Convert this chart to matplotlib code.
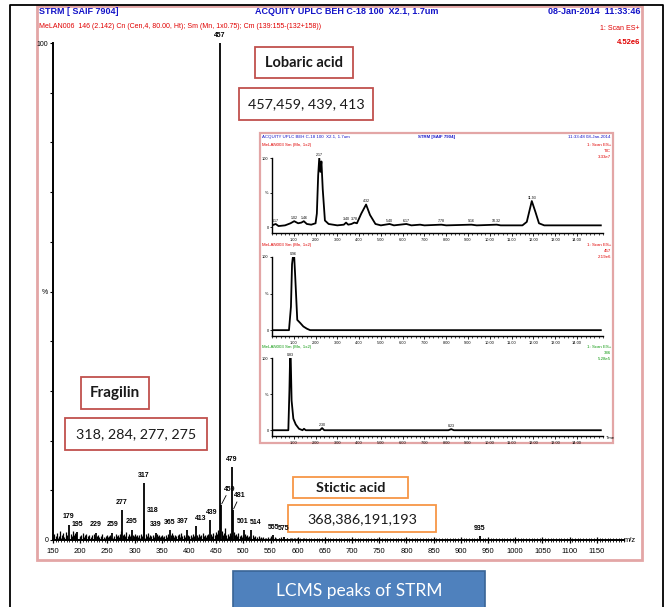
import matplotlib
matplotlib.use("Agg")
import matplotlib.pyplot as plt
from matplotlib.patches import Rectangle
from matplotlib.ticker import MultipleLocator

W, H = 667, 607

# ---- mass spectrum data (m/z, relative intensity %) ----
peak_mz = [179, 195, 229, 259, 277, 295, 317, 318, 339, 365, 397, 413,
           439, 457, 459, 479, 481, 501, 514, 555, 575, 935]
peak_int = [3.1, 1.6, 1.5, 1.5, 6.1, 2.1, 11.5, 4.1, 1.5, 2.0, 2.1, 2.8,
            4.0, 100.0, 7.0, 14.7, 6.0, 2.1, 2.0, 1.0, 0.7, 0.8]
peak_labels = ['179', '195', '229', '259', '277', '295', '317', '318', '339',
               '365', '397', '413', '439', '457', '459', '479', '481', '501',
               '514', '555', '575', '935']

noise_mz = [152, 155, 158, 161, 163, 166, 169, 171, 174, 176, 183, 185, 187,
            189, 191, 193, 199, 201, 205, 207, 209, 211, 215, 217, 219, 221,
            225, 227, 231, 233, 235, 239, 241, 243, 247, 249, 251, 253, 255,
            257, 263, 265, 267, 269, 271, 273, 275, 279, 281, 283, 284, 287,
            289, 291, 293, 297, 299, 301, 303, 305, 307, 309, 311, 313, 315,
            321, 323, 325, 327, 329, 331, 333, 335, 337, 341, 343, 345, 347,
            349, 351, 353, 355, 357, 359, 361, 363, 367, 368, 369, 371, 373,
            375, 377, 379, 381, 383, 385, 386, 388, 390, 392, 394, 399, 401,
            403, 405, 407, 409, 411, 415, 417, 419, 421, 423, 425, 427, 429,
            431, 433, 435, 437, 441, 443, 445, 447, 449, 451, 453, 455, 461,
            463, 465, 467, 469, 471, 473, 475, 477, 483, 485, 487, 489, 491,
            493, 495, 497, 499, 503, 505, 507, 509, 511, 517, 519, 521, 525,
            529, 533, 537, 541, 545, 549, 551, 559, 565, 569, 581, 587,
            593, 599, 612, 631, 655, 688, 726, 760, 812, 851, 890, 975, 1010,
            1066]
noise_int = [1.2, 0.8, 1.5, 0.9, 1.8, 1.0, 1.4, 0.7, 1.6, 1.1, 1.3, 0.8, 1.9,
             1.0, 1.5, 1.3, 0.9, 1.1, 1.4, 0.6, 1.0, 1.2, 0.8, 1.1, 0.7, 1.0,
             1.2, 0.9, 0.8, 1.1, 0.6, 0.9, 1.2, 0.7, 0.8, 1.0, 0.6, 0.9, 1.1,
             0.7, 0.9, 1.2, 0.8, 1.0, 0.7, 1.3, 1.9, 1.0, 1.3, 0.8, 1.6, 0.9,
             1.2, 0.8, 1.0, 1.1, 0.8, 1.3, 0.9, 1.1, 0.7, 1.0, 1.2, 0.8, 1.0,
             1.2, 0.9, 1.4, 0.7, 1.0, 0.8, 1.1, 0.7, 1.0, 1.2, 0.8, 1.0, 0.6,
             0.9, 1.1, 0.7, 0.9, 1.0, 0.7, 1.2, 0.9, 1.1, 1.5, 0.8, 1.0, 0.7,
             1.1, 0.8, 1.0, 1.2, 0.7, 1.0, 1.4, 0.8, 1.1, 0.7, 1.0, 1.1, 0.8,
             1.0, 0.7, 1.2, 0.8, 1.1, 1.0, 0.7, 1.2, 0.8, 1.0, 1.5, 0.9, 1.1,
             0.7, 1.0, 1.3, 0.9, 1.2, 0.8, 1.4, 1.0, 1.6, 1.2, 2.0, 1.5, 1.8,
             1.1, 1.4, 2.5, 1.0, 1.3, 0.9, 1.5, 1.1, 1.6, 1.0, 1.2, 0.8, 1.5,
             0.9, 1.1, 0.7, 1.0, 1.2, 0.8, 1.0, 0.7, 0.9, 1.0, 0.7, 0.8, 0.6,
             0.8, 0.6, 0.7, 0.5, 0.7, 0.5, 0.8, 0.6, 0.5, 0.6, 0.5, 0.4,
             0.5, 0.4, 0.4, 0.3, 0.3, 0.3, 0.3, 0.3, 0.3, 0.3, 0.3, 0.3, 0.3,
             0.3]

x_ticks = [150, 200, 250, 300, 350, 400, 450, 500, 550, 600, 650, 700, 750,
           800, 850, 900, 950, 1000, 1050, 1100, 1150]

# ---- chromatograms (retention time in min, relative intensity %) ----
tic_t = [0.0, 0.17, 0.3, 0.6, 0.85, 1.02, 1.2, 1.35, 1.46, 1.6, 1.8, 2.0,
         2.06, 2.12, 2.17, 2.22, 2.27, 2.33, 2.43, 2.6, 3.0, 3.3, 3.4, 3.5,
         3.65, 3.78, 3.9, 4.1, 4.32, 4.5, 4.75, 5.0, 5.4, 5.6, 6.17, 6.4, 6.8,
         7.0, 7.78, 8.0, 9.16, 9.4, 10.32, 10.5, 11.5, 11.7, 11.93, 12.1,
         12.26, 12.5, 13.0, 14.0, 15.1]
tic_i = [3, 5, 2, 3, 6, 9, 6, 7, 9, 5, 4, 6, 20, 75, 100, 80, 95, 55, 10, 5,
         3, 4, 7, 4, 5, 7, 6, 20, 33, 18, 5, 3, 5, 3, 5, 3, 4, 3, 4, 3, 4, 3,
         4, 3, 3, 8, 38, 22, 6, 3, 3, 3, 3]
tic_rt = ['0.17', '1.02', '1.46', '2.17', '3.40', '3.78', '4.32', '5.40',
          '6.17', '7.78', '9.16', '10.32', '11.93']
tic_rt_i = [5, 9, 9, 100, 7, 7, 33, 5, 5, 4, 4, 4, 38]

eic1_t = [0.0, 0.78, 0.87, 0.92, 0.96, 1.02, 1.06, 1.10, 1.16, 1.29, 1.44,
          1.6, 1.75, 15.1]
eic1_i = [0, 0, 32, 90, 100, 100, 77, 52, 14, 10, 5, 2, 0, 0]

eic2_t = [0.0, 0.75, 0.80, 0.83, 0.86, 0.90, 0.98, 1.09, 1.24, 1.40, 1.47,
          1.55, 1.6, 2.2, 2.3, 2.4, 8.1, 8.23, 8.35, 15.1]
eic2_i = [0, 0, 55, 100, 100, 41, 16, 8, 2, 0, 2, 0, 0, 0, 3, 0, 0, 1.5, 0, 0]

BLUE = '#1414C8'
RED = '#E00000'
GREEN = '#109A10'
PINK = '#E3A6A6'
BOXRED = '#C0504D'
BOXORANGE = '#F79646'
INST = ['Liberation Sans Narrow', 'Liberation Sans']
CAL = ['Lato', 'DejaVu Sans']


def px_axes(x0, y0, x1, y1, **kw):
    return fig.add_axes([x0 / W, 1 - y1 / H, (x1 - x0) / W, (y1 - y0) / H], **kw)


fig = plt.figure(figsize=(W / 100, H / 100), dpi=100)

# ---------------- main spectrum ----------------
ax = px_axes(53, 43, 624, 540)
ax.set_zorder(3)
ax.set_facecolor('none')
ax.vlines(noise_mz, 0, noise_int, color='black', lw=0.9)
ax.vlines(peak_mz, 0, peak_int, color='black', lw=1.3)
ax.set_xlim(150, 1200)
ax.set_ylim(0, 100)
for s in ('top', 'right'):
    ax.spines[s].set_visible(False)
for s in ('left', 'bottom'):
    ax.spines[s].set_linewidth(1.4)
ax.set_xticks(x_ticks)
ax.set_xticklabels([str(v) for v in x_ticks], fontsize=5.5, family=INST)
ax.xaxis.set_minor_locator(MultipleLocator(5))
ax.tick_params(axis='x', which='major', length=4, width=0.9, pad=4, direction='inout')
ax.tick_params(axis='x', which='minor', length=2.5, width=0.6, direction='inout')
ax.set_yticks(range(0, 101, 10))
ax.set_yticklabels(['0', '', '', '', '', '%', '', '', '', '', '100'], fontsize=5, family=INST)
ax.tick_params(axis='y', length=2.5, width=0.8, pad=1)
ax.text(1.0, 0.0, 'm/z', transform=ax.transAxes, fontsize=5.5, family=INST,
        ha='left', va='center')

label_offsets = {'318': (6, 4, False), '459': (6, 9, True), '481': (5, 8, True),
                 '439': (1, 3, False), '501': (-1, 3, False), '514': (3, 3, False),
                 '397': (-3, 3, False), '413': (3, 3, False)}
for mz, h, lab in zip(peak_mz, peak_int, peak_labels):
    dx, dy, lead = label_offsets.get(lab, (0, 3, False))
    ax.annotate(lab, (mz, h), xytext=(dx, dy), textcoords='offset points',
                ha='center', va='bottom', fontsize=5, family=INST, weight='bold',
                arrowprops=dict(arrowstyle='-', lw=0.6, shrinkA=0, shrinkB=1) if lead else None)

# ---------------- page overlay: frames, headers, text boxes ----------------
ov = fig.add_axes([0, 0, 1, 1], facecolor='none')
ov.set_zorder(2)
ov.set_xlim(0, W)
ov.set_ylim(H, 0)
ov.axis('off')

ov.plot([10, 10, 663, 663], [H, 5, 5, H], color='black', lw=1.3)
ov.add_patch(Rectangle((37, 6), 605, 554, fill=False, ec=PINK, lw=2))

ov.text(39, 11, 'STRM [ SAIF 7904]', color=BLUE, fontsize=6.5, weight='bold',
        family=INST, va='center', ha='left')
ov.text(255, 11, 'ACQUITY UPLC BEH C-18 100  X2.1, 1.7um', color=BLUE, fontsize=6.5,
        weight='bold', family=INST, va='center', ha='left')
ov.text(640, 11, '08-Jan-2014  11:33:46', color=BLUE, fontsize=6.5, weight='bold',
        family=INST, va='center', ha='right')
ov.text(39, 27, 'MeLAN006  146 (2.142) Cn (Cen,4, 80.00, Ht); Sm (Mn, 1x0.75); Cm (139:155-(132+158))',
        color=RED, fontsize=5, family=INST, va='center', ha='left')
ov.text(640, 28, '1: Scan ES+', color=RED, fontsize=5, family=INST, va='center', ha='right')
ov.text(640, 42, '4.52e6', color=RED, fontsize=5.5, weight='bold', family=INST,
        va='center', ha='right')


def text_box(x0, y0, x1, y1, txt, ec, bold, size):
    ov.add_patch(Rectangle((x0, y0), x1 - x0, y1 - y0, fc='white', ec=ec, lw=1.3))
    ov.text((x0 + x1) / 2, (y0 + y1) / 2 + 0.5, txt, fontsize=size, family=CAL,
            weight='bold' if bold else 'normal', ha='center', va='center', color='#1a1a1a')


text_box(255, 47, 353, 78, 'Lobaric acid', BOXRED, True, 10.5)
text_box(239, 88, 373, 120, '457,459, 439, 413', BOXRED, False, 10.3)
text_box(81, 377, 149, 409, 'Fragilin', BOXRED, True, 11)
text_box(65, 418, 207, 450, '318, 284, 277, 275', BOXRED, False, 10.3)
text_box(293, 477, 408, 498, 'Stictic acid', BOXORANGE, True, 10.4)
text_box(288, 505, 436, 532, '368,386,191,193', BOXORANGE, False, 10.4)

# caption box
ov.add_patch(Rectangle((233, 571), 252, 40, fc='#4F81BD', ec='#3A6596', lw=1.2))
ov.text(359, 591, 'LCMS peaks of STRM', color='white', fontsize=12.5, family=CAL,
        ha='center', va='center')

# inset frame
ov.add_patch(Rectangle((260, 133), 353, 310, fc='white', ec=PINK, lw=1.6))

# inset headers
ov.text(262, 137, 'ACQUITY UPLC BEH C-18 100  X2.1, 1.7um', color=BLUE, fontsize=3.2,
        family=INST, va='center', ha='left')
ov.text(437, 137, 'STRM [SAIF 7904]', color=BLUE, fontsize=3.2, family=INST,
        va='center', ha='center', weight='bold')
ov.text(611, 137, '11:33:48 08-Jan-2014', color=BLUE, fontsize=3.2, family=INST,
        va='center', ha='right')
panel_hdr = [(145, 'MeLAN003 Sm (Mn, 1x2)', RED, ['1: Scan ES+', 'TIC', '3.33e7']),
             (245, 'MeLAN003 Sm (Mn, 1x2)', RED, ['1: Scan ES+', '457', '2.19e6']),
             (347, 'MeLAN003 Sm (Mn, 1x2)', GREEN, ['1: Scan ES+', '386', '5.28e5'])]
for y, left, col, right in panel_hdr:
    ov.text(262, y, left, color=col, fontsize=3.2, family=INST, va='center', ha='left')
    for k, r in enumerate(right):
        ov.text(611, y + k * 6, r, color=col, fontsize=3.2, family=INST,
                va='center', ha='right')

# ---------------- chromatogram panels ----------------
panels = [((272, 158, 603, 233), tic_t, tic_i),
          ((272, 257, 603, 336), eic1_t, eic1_i),
          ((272, 358, 603, 436), eic2_t, eic2_i)]
panel_axes = []
for k, (box, t, inten) in enumerate(panels):
    pa = px_axes(*box, facecolor='none')
    pa.set_zorder(4)
    pa.plot(t, inten, color='black', lw=1.3)
    pa.set_xlim(0, 15.2)
    pa.set_ylim(-8, 100)
    for s in ('top', 'right'):
        pa.spines[s].set_visible(False)
    for s in ('left', 'bottom'):
        pa.spines[s].set_linewidth(1.0)
    pa.set_xticks(range(1, 15))
    pa.set_xticklabels(['%d.00' % v for v in range(1, 15)], fontsize=2.8, family=INST)
    pa.xaxis.set_minor_locator(MultipleLocator(0.2))
    pa.tick_params(axis='x', which='major', length=2.5, width=0.6, pad=0.8)
    pa.tick_params(axis='x', which='minor', length=1.5, width=0.5)
    pa.set_yticks([0, 50, 100])
    pa.set_yticklabels(['0', '%', '100'], fontsize=2.8, family=INST)
    pa.tick_params(axis='y', length=1.5, width=0.6, pad=1)
    if k == 2:
        pa.text(1.01, -0.02, 'Time', transform=pa.transAxes, fontsize=3,
                family=INST, va='center', ha='left')
    panel_axes.append(pa)

# retention-time labels
for lab, h in zip(tic_rt, tic_rt_i):
    panel_axes[0].annotate(lab, (float(lab), h), xytext=(0, 1), textcoords='offset points',
                           ha='center', va='bottom', fontsize=2.6, family=INST)
for pa, lab, h in [(panel_axes[1], '0.96', 100), (panel_axes[2], '0.83', 100),
                   (panel_axes[2], '2.30', 3), (panel_axes[2], '8.23', 1.5)]:
    pa.annotate(lab, (float(lab), h), xytext=(0, 1), textcoords='offset points',
                ha='center', va='bottom', fontsize=2.6, family=INST)

fig.savefig('out.png', dpi=100)
